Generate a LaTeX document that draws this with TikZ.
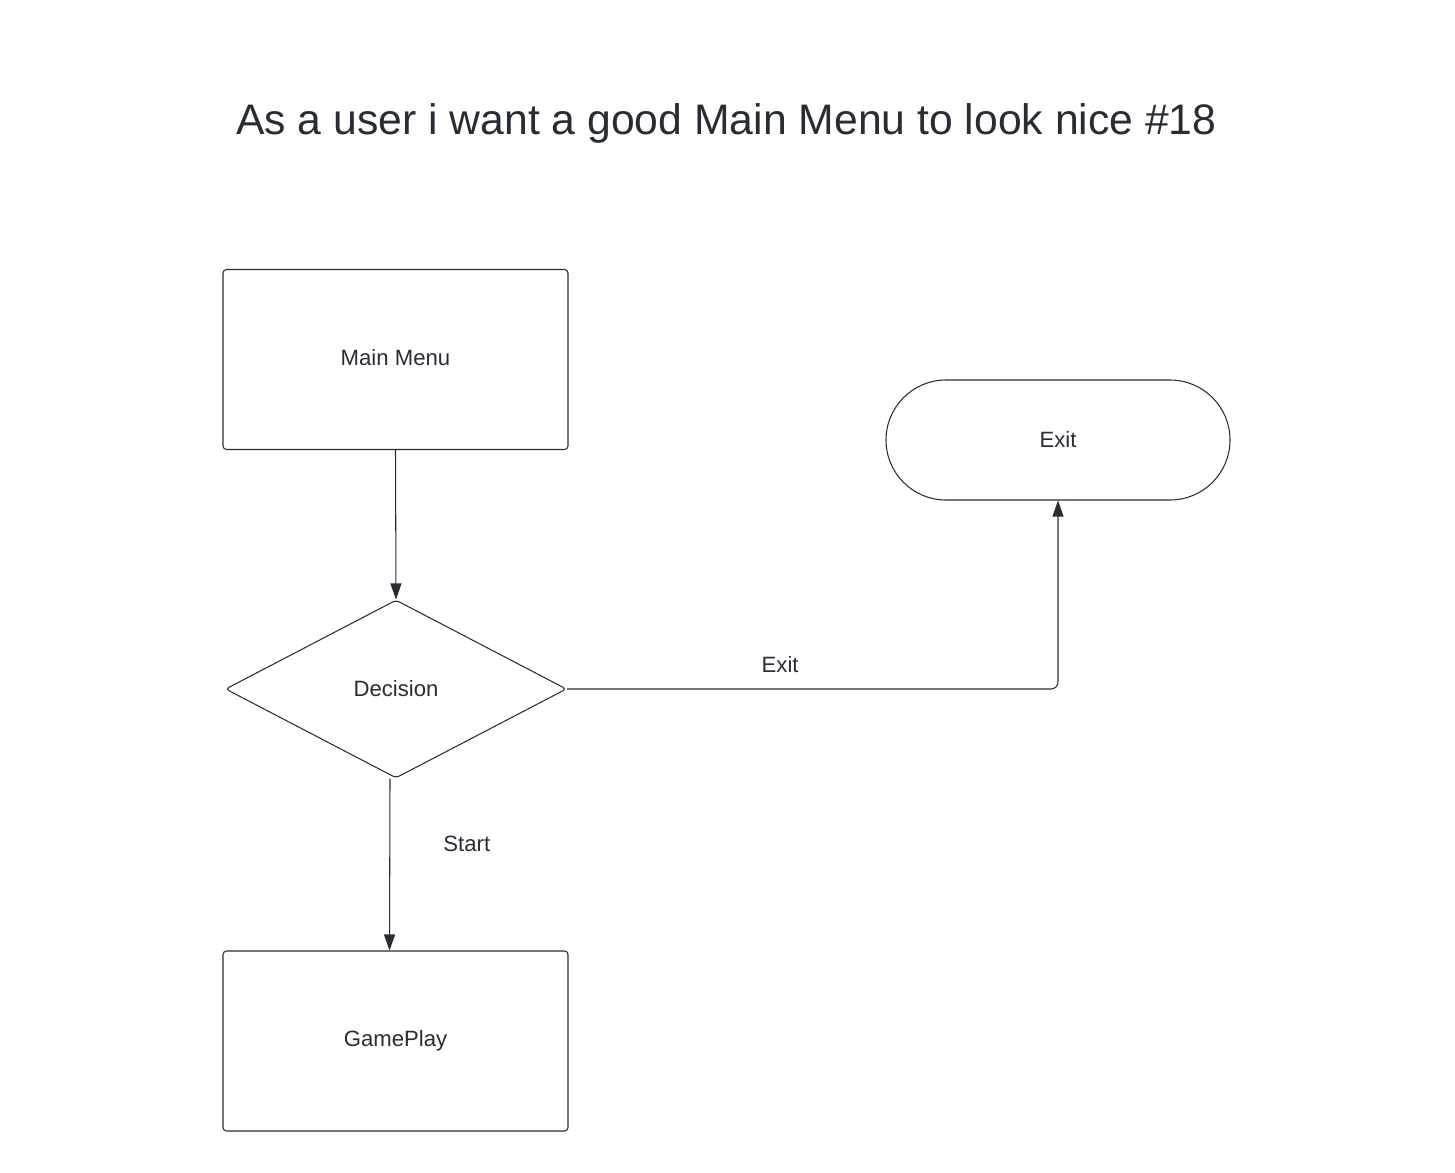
\documentclass[tikz,border=0pt]{standalone}
\usepackage{fontspec}
\setmainfont{Liberation Sans}
\usepackage{tikz}
\usetikzlibrary{shapes.geometric, arrows.meta, positioning, calc}
\definecolor{ink}{RGB}{40, 44, 52}

\begin{document}
\begin{tikzpicture}[
    x=1cm, y=1cm,
    every node/.style={text=ink},
    block/.style={
        rectangle, rounded corners=2pt, draw=ink, line width=0.6pt,
        minimum width=6.9cm, minimum height=3.6cm,
        font=\fontsize{12.6}{15}\selectfont, align=center
    },
    terminal/.style={
        rectangle, rounded corners=1.2cm, draw=ink, line width=0.6pt,
        minimum width=6.88cm, minimum height=2.4cm,
        font=\fontsize{12.6}{15}\selectfont
    },
    decision/.style={
        diamond, aspect=1.92, rounded corners=2pt, draw=ink, line width=0.6pt,
        minimum width=6.82cm, minimum height=3.56cm, inner sep=0pt,
        font=\fontsize{12.6}{15}\selectfont
    },
    lbl/.style={font=\fontsize{12.6}{15}\selectfont},
    arr/.style={-{Triangle[length=0.32cm, width=0.22cm]}, draw=ink, line width=0.6pt}
]

    \useasboundingbox (0,0) rectangle (29.1,-23.44);

    \node[anchor=base, font=\fontsize{24.3}{29}\selectfont] (title) at (14.53,-2.7)
        {As a user i want a good Main Menu to look nice \#18};

    \node[block]    (menu) at (7.91,-7.19)  {\raisebox{0.08cm}{Main Menu}};
    \node[terminal] (exit) at (21.16,-8.8)  {\raisebox{0.04cm}{Exit}};
    \node[decision] (dec)  at (7.92,-13.78) {Decision};
    \node[block]    (game) at (7.91,-20.82) {\raisebox{0.04cm}{GamePlay}};

    \draw[arr] (menu.south) -- (dec.north);
    \draw[arr, rounded corners=4pt] (dec.east) -| (exit.south)
        node[lbl, pos=0.217, yshift=0.48cm] {Exit};
    \draw[arr] ([xshift=-0.12cm]dec.south) -- ([xshift=-0.12cm]game.north)
        node[lbl, pos=0.38, xshift=1.54cm] {Start};
\end{tikzpicture}
\end{document}
